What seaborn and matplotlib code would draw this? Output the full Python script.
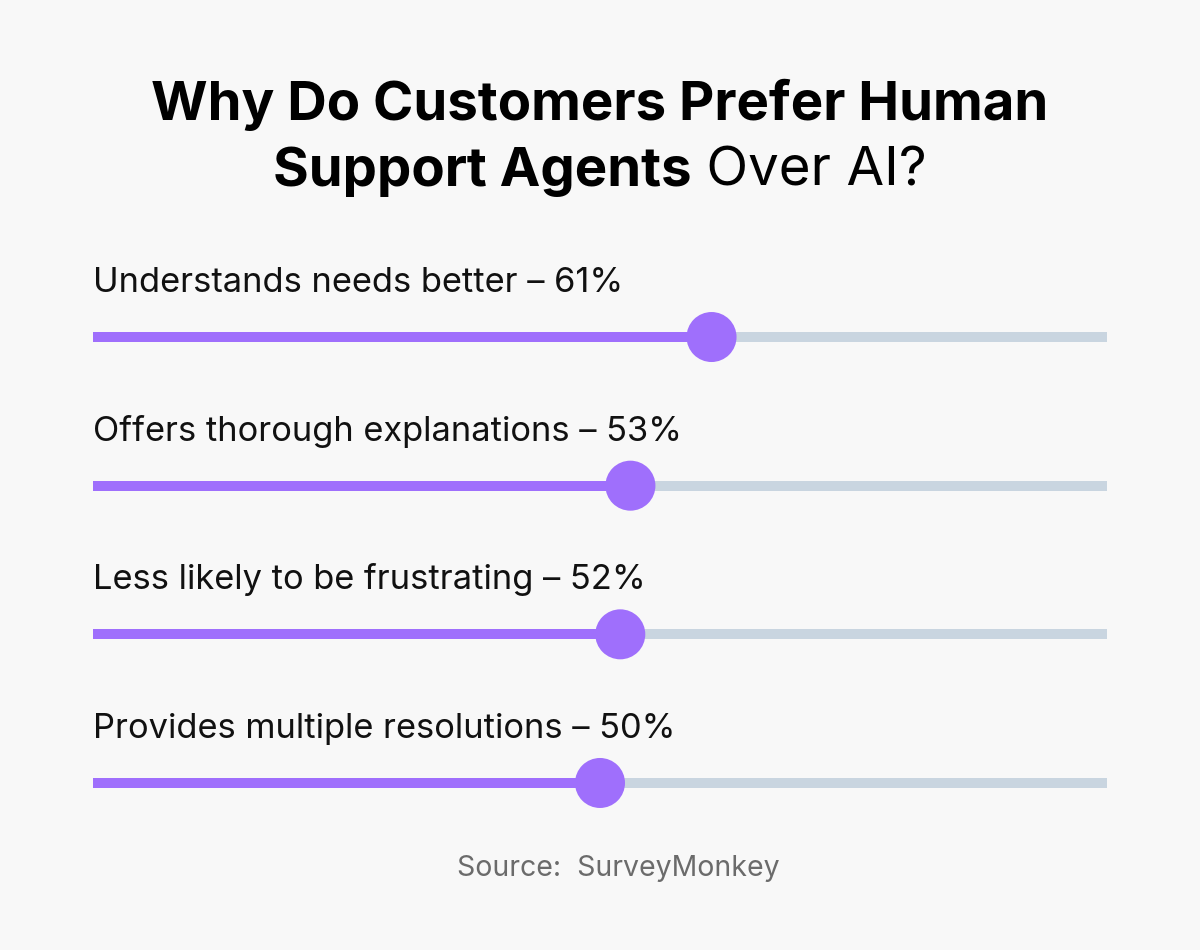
import matplotlib
matplotlib.use("Agg")
import matplotlib.pyplot as plt
import seaborn as sns
import pandas as pd

categories = ["Understands needs better", "Offers thorough explanations",
              "Less likely to be frustrating", "Provides multiple resolutions"]
values = [61, 53, 52, 50]
title_bold_1 = "Why Do Customers Prefer Human"
title_bold_2 = "Support Agents"
title_reg_2 = " Over AI?"
source = "Source:  SurveyMonkey"

BG = "#f8f8f8"
PURPLE = "#9f6ffc"
TRACK = "#c9d5e0"

df = pd.DataFrame({"cat": categories, "val": values, "idx": range(len(categories))})

sns.set_theme(style="white")
plt.rcParams["font.family"] = ["Inter", "DejaVu Sans"]

fig = plt.figure(figsize=(12, 9.5), dpi=100, facecolor=BG)
W, H = 1200, 950
top_px, bot_px = 262.7, 857.3
ax = fig.add_axes([93 / W, 1 - bot_px / H, 1014 / W, (bot_px - top_px) / H])
ax.set_facecolor(BG)

ax.hlines(df["idx"], 0, 100, color=TRACK, lw=7.2, capstyle="butt", zorder=1)
ax.hlines(df["idx"], 0, df["val"], color=PURPLE, lw=7.2, capstyle="butt", zorder=2)
sns.scatterplot(data=df, x="val", y="idx", s=1296, color=PURPLE, edgecolor="none",
                ax=ax, zorder=3, legend=False, clip_on=False)
ax.set_xlim(0, 100)
ax.set_ylim(len(categories) - 0.5, -0.5)
ax.axis("off")

for i, (c, v) in enumerate(zip(categories, values)):
    ax.text(0, i - 0.303, f"{c} – {v}%", fontsize=24.8, color="#111111",
            ha="left", va="baseline")

# title
fig.text(0.5, 1 - 105 / H, title_bold_1, ha="center", va="center",
         fontsize=39.3, fontweight="bold", color="#000000")
fig.canvas.draw()
r = fig.canvas.get_renderer()
t1 = fig.text(0, 1 - 172 / H, title_bold_2, ha="left", va="center",
              fontsize=39.3, fontweight="bold", color="#000000")
t2 = fig.text(0, 1 - 172 / H, title_reg_2, ha="left", va="center",
              fontsize=39.3, color="#000000")
w1 = t1.get_window_extent(r).width
w2 = t2.get_window_extent(r).width
start = (W - (w1 + w2)) / 2
t1.set_x(start / W)
t2.set_x((start + w1) / W)

fig.text(0.515, 1 - 868 / H, source, ha="center", va="center",
         fontsize=20.5, color="#6b6b6b")

fig.savefig("out.png", dpi=100, facecolor=BG)
